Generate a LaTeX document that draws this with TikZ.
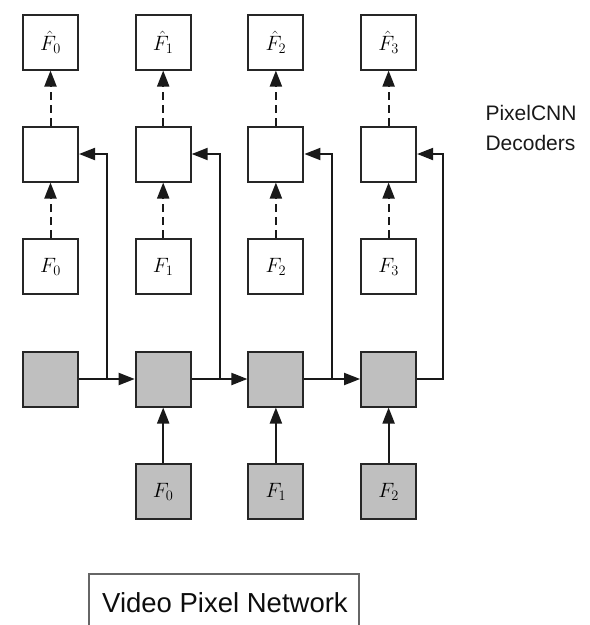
\documentclass[tikz,border=0pt]{standalone}
\usepackage{fontspec}
\newfontfamily\labelfont{Liberation Sans}
\usetikzlibrary{arrows.meta,calc}

\tikzset{
  cell/.style={draw=black!85, line width=2pt, minimum size=55pt, inner sep=0pt,
               font=\fontsize{22}{26}\selectfont},
  gcell/.style={cell, fill=gray!50},
  arr/.style={draw=black!90, line width=2pt, -{Triangle[length=16pt,width=12pt]}},
  darr/.style={arr, dash pattern=on 8pt off 5pt},
  caption/.style={font=\labelfont\fontsize{21}{30}\selectfont, text=black!90},
}

\begin{document}
\begin{tikzpicture}[x=1pt,y=-1pt]
\useasboundingbox (0,0) rectangle (590,625);

% decoder columns: outputs, decoders, frame inputs, recurrent cells
\foreach \i/\x in {0/50.5,1/163.2,2/275.9,3/388.6} {
  \node[cell]  (out\i) at (\x,42)    {$\hat{F}_{\i}$};
  \node[cell]  (dec\i) at (\x,154)   {};
  \node[cell]  (in\i)  at (\x,266.5) {$F_{\i}$};
  \node[gcell] (rnn\i) at (\x,379)   {};
  \draw[darr] (in\i) -- (dec\i);
  \draw[darr] (dec\i) -- (out\i);
}

% frames fed into the recurrent cells
\foreach \i/\j/\x in {0/1/163.2,1/2/275.9,2/3/388.6} {
  \node[gcell] (frm\i) at (\x,491.5) {$F_{\i}$};
  \draw[arr] (frm\i) -- (rnn\j);
}

% recurrent connections and conditioning of the decoders
\foreach \i/\j in {0/1,1/2,2/3} {
  \draw[arr] (rnn\i) -- (rnn\j);
  \coordinate (t\i) at ($(rnn\i.east)!0.5!(rnn\j.west)$);
  \draw[arr] (t\i) |- (dec\i.east);
}
\coordinate (t3) at ([xshift=26pt]rnn3.east);
\draw[arr] (rnn3.east) -- (t3) |- (dec3.east);

% labels
\node[caption, align=left, anchor=base west] (pcnn) at (482,150) {PixelCNN\\Decoders};
\draw[draw=black!60, line width=1.5pt] (89,574) rectangle (359,660);
\node[font=\labelfont\fontsize{27.5}{32}\selectfont, text=black!95, anchor=base] (vpn) at (225,612) {Video Pixel Network};
\end{tikzpicture}
\end{document}
